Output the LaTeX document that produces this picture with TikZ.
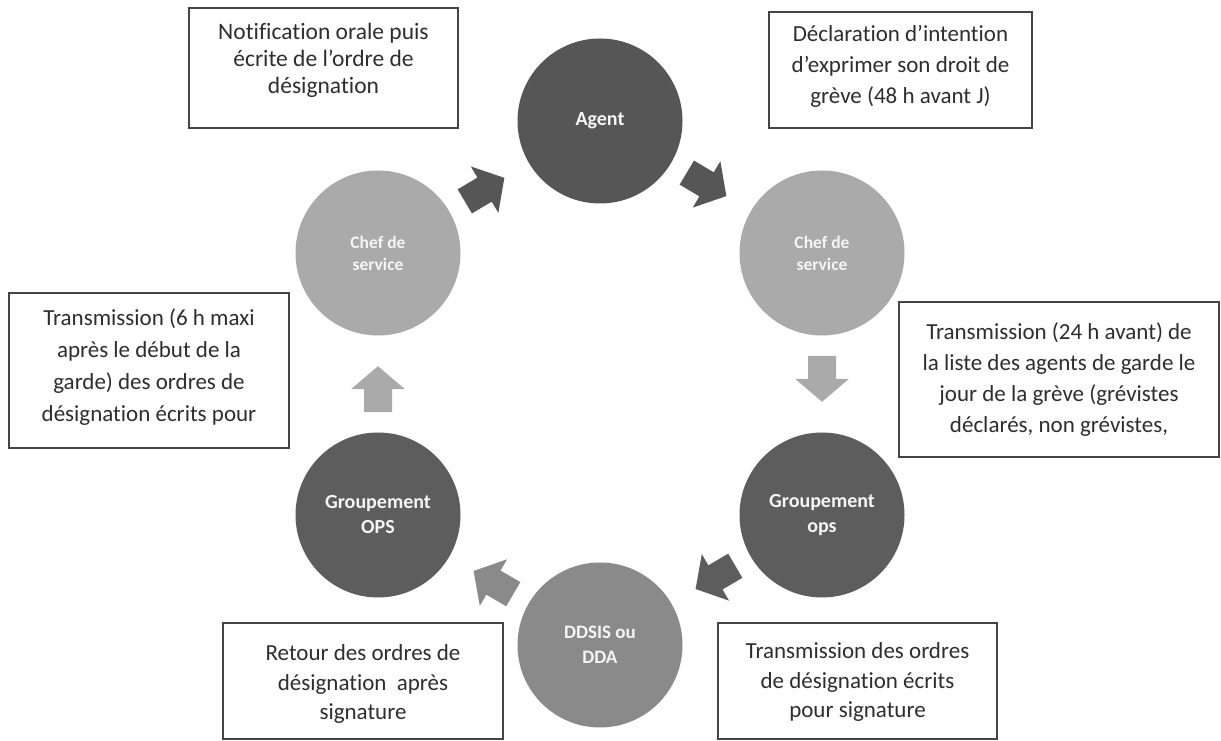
\documentclass[tikz,border=0pt]{standalone}
\usepackage{fontspec}
\setmainfont{Carlito}[Ligatures={NoCommon}]
\usetikzlibrary{calc}
\definecolor{cdark}{HTML}{565656}
\definecolor{cops}{HTML}{5D5D5D}
\definecolor{cmid}{HTML}{8A8A8A}
\definecolor{clight}{HTML}{AAAAAA}
\definecolor{ctext}{HTML}{2E2E2E}
\definecolor{cborder}{HTML}{454545}
\begin{document}
\begin{tikzpicture}[x=1pt,y=1pt,
  disc/.style={circle, minimum size=165pt, inner sep=0pt, text=white!96!black, align=center, font=\fontsize{20}{25}\selectfont\bfseries},
  note/.style={draw=cborder, line width=1.2pt, inner sep=0pt},
  notetext/.style={text=ctext, align=center, inner sep=0pt},
  cyclearrow/.pic={\fill[pic actions] (-23,-14) -- (0,-14) -- (0,-27) -- (23,0) -- (0,27) -- (0,14) -- (-23,14) -- cycle;}
]
\useasboundingbox (0,0) rectangle (1221,741);
\fill[white] (0,0) rectangle (1221,741);

% circles
\node[disc, fill=cdark] (agent) at (600,620) {Agent};
\node[disc, fill=clight, font=\fontsize{17.5}{22}\selectfont\bfseries] (chefR) at (822,488) {Chef de\\service};
\node[disc, fill=cops] (opsR) at (822,226) {Groupement\\ops};
\node[disc, fill=cmid, font=\fontsize{19}{25}\selectfont\bfseries] (ddsis) at (600,96) {DDSIS ou\\DDA};
\node[disc, fill=cops] (opsL) at (378,226) {Groupement\\OPS};
\node[disc, fill=clight, font=\fontsize{17.5}{22}\selectfont\bfseries] (chefL) at (378,488) {Chef de\\service};

% arrows
\path let \p1=($(agent)-(chefL)$) in pic[fill=cdark, rotate={atan2(\y1,\x1)}] at ($(chefL)!0.48!(agent)$) {cyclearrow};
\path let \p1=($(chefR)-(agent)$) in pic[fill=cdark, rotate={atan2(\y1,\x1)}] at ($(agent)!0.48!(chefR)$) {cyclearrow};
\path let \p1=($(opsR)-(chefR)$) in pic[fill=clight, rotate={atan2(\y1,\x1)}] at ($(chefR)!0.48!(opsR)$) {cyclearrow};
\path let \p1=($(ddsis)-(opsR)$) in pic[fill=cops, rotate={atan2(\y1,\x1)}] at ($(opsR)!0.48!(ddsis)$) {cyclearrow};
\path let \p1=($(opsL)-(ddsis)$) in pic[fill=cmid, rotate={atan2(\y1,\x1)}] at ($(ddsis)!0.48!(opsL)$) {cyclearrow};
\path let \p1=($(chefL)-(opsL)$) in pic[fill=clight, rotate={atan2(\y1,\x1)}] at ($(opsL)!0.48!(chefL)$) {cyclearrow};

% text boxes
\node[note, minimum width=269pt, minimum height=120pt] (b1) at (323.5,673) {};
\node[notetext, font=\fontsize{23.5}{27}\selectfont] (t1) at ([yshift=8pt]b1.center) {Notification orale puis\\écrite de l’ordre de\\désignation};
\node[note, minimum width=263pt, minimum height=116pt] (b2) at (900.5,671) {};
\node[notetext, font=\fontsize{23}{31}\selectfont] (t2) at ([yshift=4pt]b2.center) {Déclaration d’intention\\d’exprimer son droit de\\grève (48 h avant J)};
\node[note, minimum width=320pt, minimum height=155pt] (b3) at (1059,361.5) {};
\node[notetext, font=\fontsize{23}{31}\selectfont] (t3) at (b3.center) {Transmission (24 h avant) de\\la liste des agents de garde le\\jour de la grève (grévistes\\déclarés, non grévistes,};
\node[note, minimum width=280pt, minimum height=155pt] (b4) at (149,370.5) {};
\node[notetext, font=\fontsize{23}{32}\selectfont] (t4) at ([yshift=3pt]b4.center) {Transmission (6 h maxi\\après le début de la\\garde) des ordres de\\désignation écrits pour};
\node[note, minimum width=280pt, minimum height=116pt] (b5) at (363,60) {};
\node[notetext, font=\fontsize{23}{29.5}\selectfont] (t5) at ([yshift=-3pt]b5.center) {Retour des ordres de\\désignation\ \ après\\signature};
\node[note, minimum width=279pt, minimum height=116pt] (b6) at (857.5,60) {};
\node[notetext, font=\fontsize{23}{29.5}\selectfont] (t6) at ([yshift=-1pt]b6.center) {Transmission des ordres\\de désignation écrits\\pour signature};
\end{tikzpicture}
\end{document}
